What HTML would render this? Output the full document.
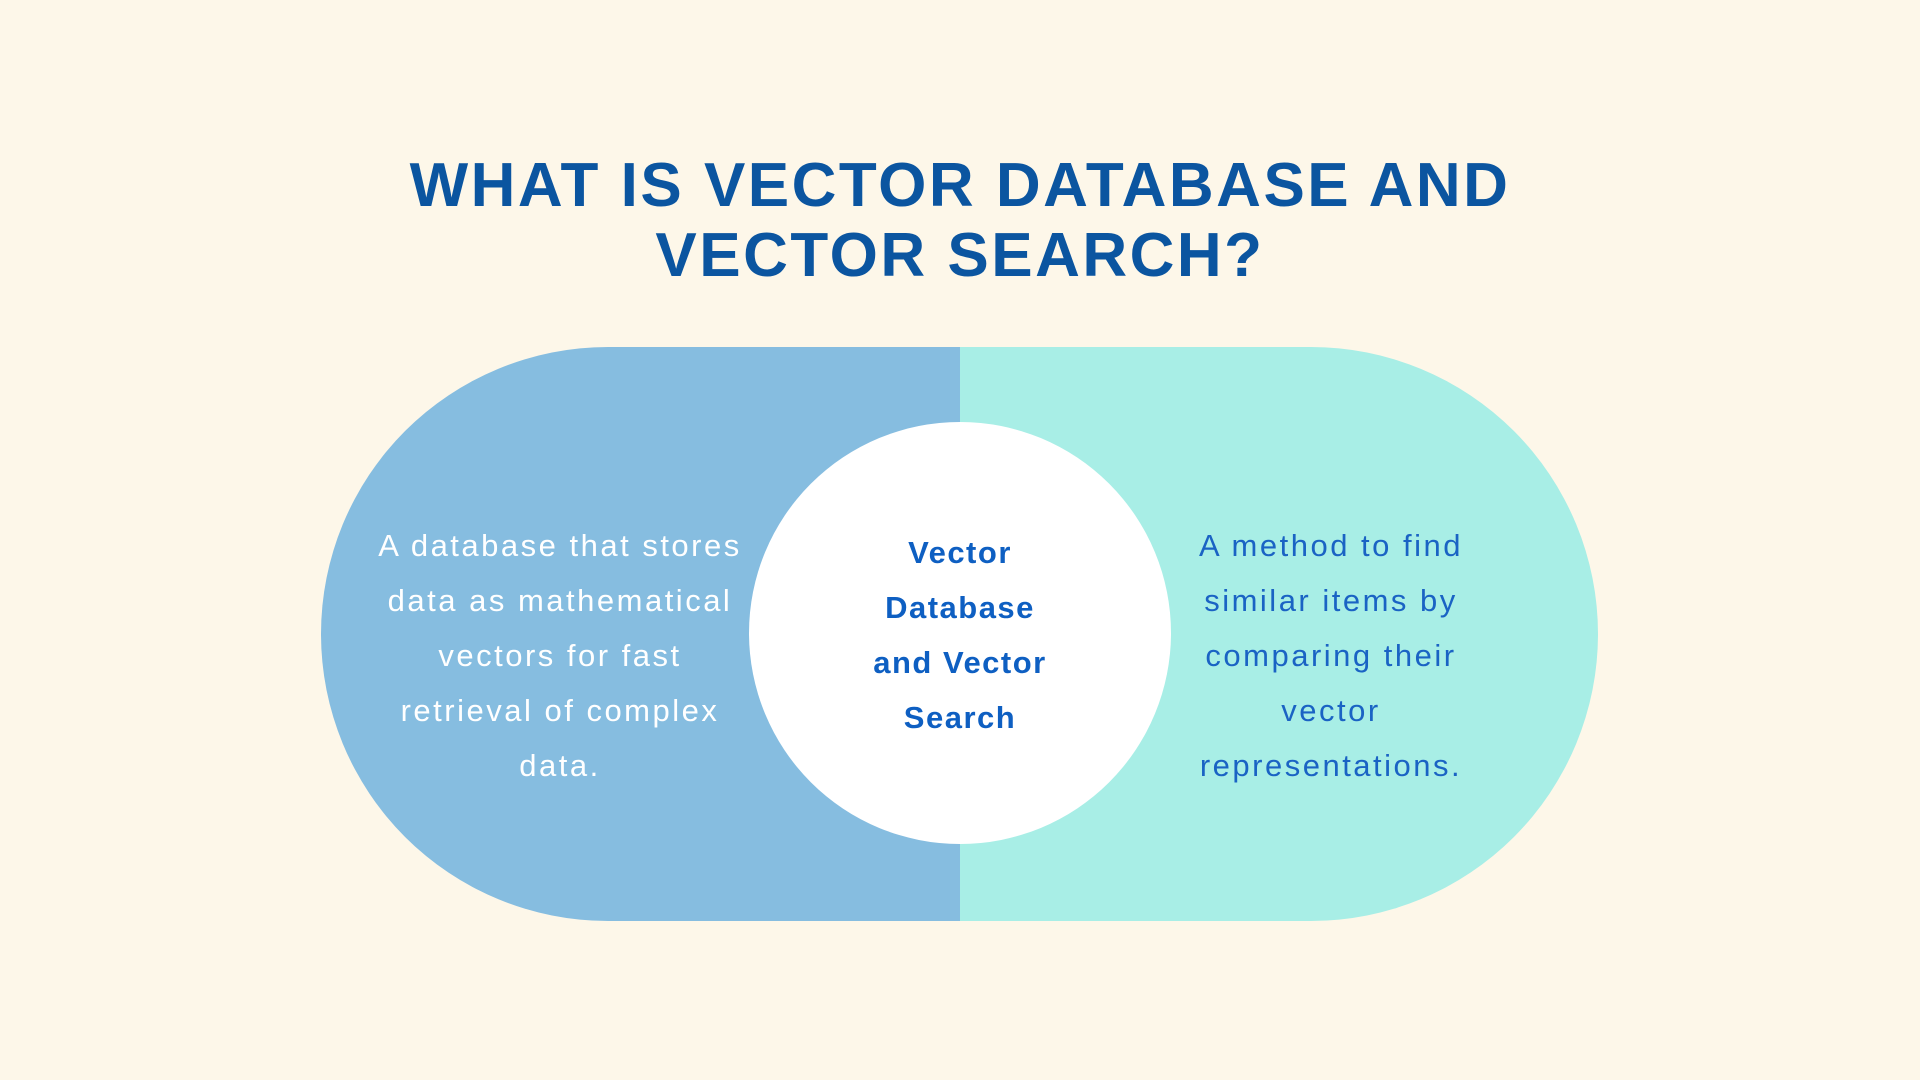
<!DOCTYPE html>
<html><head><meta charset="utf-8"><style>
html,body{margin:0;padding:0}
body{width:1920px;height:1080px;background:#fdf7e9;position:relative;overflow:hidden;font-family:"Liberation Sans",sans-serif}
.title{position:absolute;left:0;width:1920px;text-align:center;color:#0b55a0;font-weight:bold;font-size:62px;letter-spacing:2.5px;line-height:70px;top:151px}
.pill{position:absolute;left:321px;top:347px;width:1277px;height:574px;border-radius:287px;overflow:hidden}
.l{position:absolute;left:0;top:0;width:639px;height:574px;background:#86bde0}
.r{position:absolute;left:639px;top:0;width:638px;height:574px;background:#a8eee6}
.circle{position:absolute;left:749px;top:422px;width:422px;height:422px;border-radius:50%;background:#fff}
.t{position:absolute;text-align:center;font-size:31px;line-height:55px;letter-spacing:2.5px;white-space:nowrap}
.tl{left:310px;width:500px;top:518px;color:#fff}
.tr{left:1081px;width:500px;top:518px;color:#1a63c4}
.tc{left:800px;width:320px;top:525px;color:#0e5fc2;font-weight:bold;font-size:31px;letter-spacing:1.5px}
</style></head><body>
<div class="title">WHAT IS VECTOR DATABASE AND<br>VECTOR SEARCH?</div>
<div class="pill"><div class="l"></div><div class="r"></div></div>
<div class="circle"></div>
<div class="t tl">A database that stores<br>data as mathematical<br>vectors for fast<br>retrieval of complex<br>data.</div>
<div class="t tc">Vector<br>Database<br>and Vector<br>Search</div>
<div class="t tr">A method to find<br>similar items by<br>comparing their<br>vector<br>representations.</div>
</body></html>
